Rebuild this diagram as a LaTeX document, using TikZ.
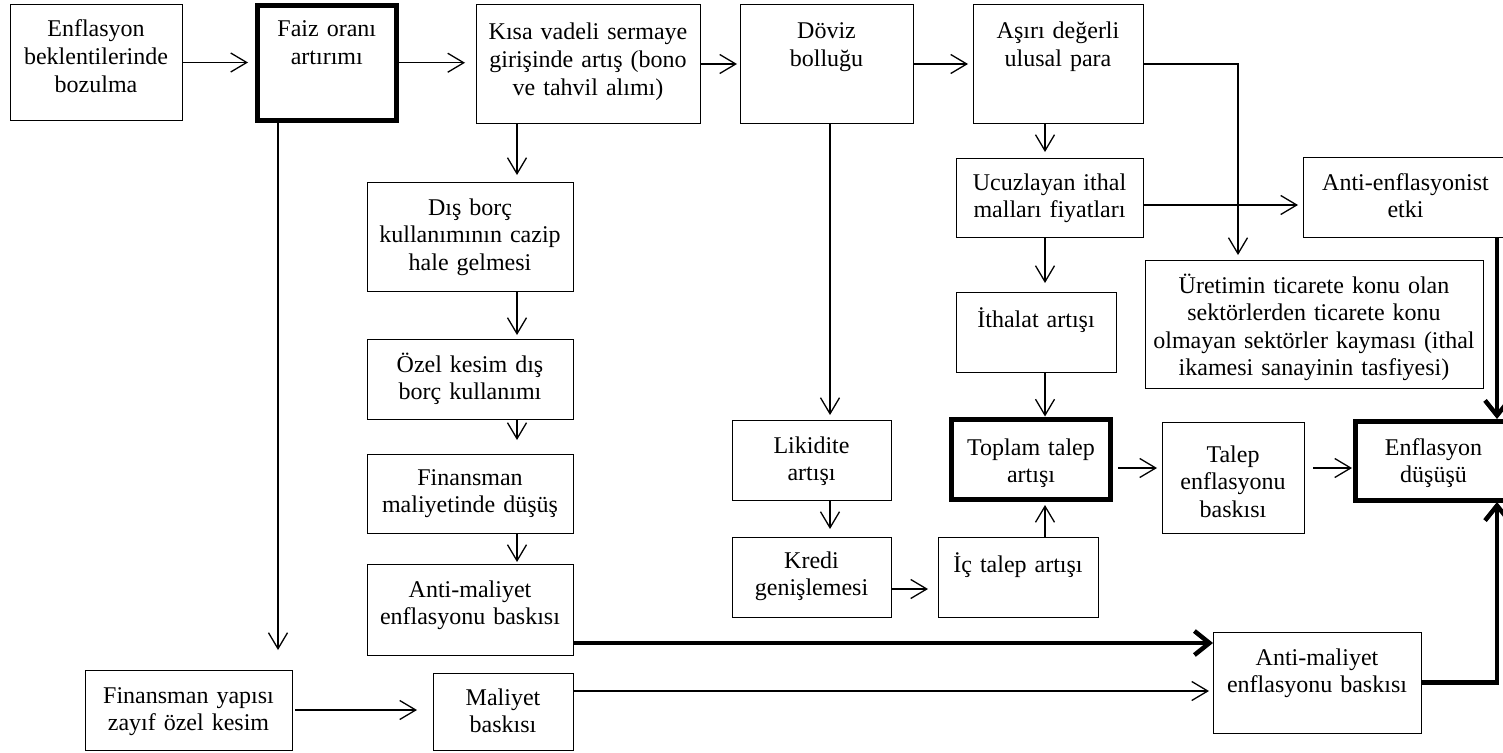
\documentclass[tikz,border=0pt]{standalone}
\usepackage{fontspec}
\setmainfont{Liberation Serif}
\usetikzlibrary{arrows.meta}
\begin{document}
\begin{tikzpicture}[x=1pt,y=-1pt,
  box/.style={draw, line width=1pt, inner sep=0pt, outer sep=0pt, align=center, anchor=north west, font={\fontsize{24}{27.6}\selectfont}},
  tbox/.style={box, line width=5pt},
  arr/.style={line width=1.3pt, -{Straight Barb[length=16pt,width=19pt]}},
  tarr/.style={line width=4.5pt, line join=miter, -{Straight Barb[length=15pt,width=24pt]}},
]
\useasboundingbox (0,0) rectangle (1503,752);
\fill[white] (0,0) rectangle (1503,752);
\clip (0,0) rectangle (1503,752);

% boxes
\node[box,  text width=172pt,   text height=32pt,   text depth=83pt] (A) at (10,5) {Enflasyon\\beklentilerinde\\bozulma};
\node[tbox, text width=139.5pt, text height=31.5pt, text depth=83pt] (B) at (257,5.5) {Faiz oranı\\artırımı};
\node[box,  text width=224pt,   text height=35pt,   text depth=83pt] (C) at (476,5) {Kısa vadeli sermaye\\girişinde artış (bono\\ve tahvil alımı)};
\node[box,  text width=173pt,   text height=34pt,   text depth=84pt] (D) at (740,5) {Döviz\\bolluğu};
\node[box,  text width=170pt,   text height=34pt,   text depth=84pt] (E) at (973,5) {Aşırı değerli\\ulusal para};
\node[box,  text width=206pt,   text height=33pt,   text depth=76pt] (F) at (367,182) {Dış borç\\kullanımının cazip\\hale gelmesi};
\node[box,  text width=206pt,   text height=33pt,   text depth=47pt] (G) at (367,339) {Özel kesim dış\\borç kullanımı};
\node[box,  text width=206pt,   text height=31pt,   text depth=48pt] (H) at (367,454) {Finansman\\maliyetinde düşüş};
\node[box,  text width=206pt,   text height=33pt,   text depth=58pt] (I) at (367,564) {Anti-maliyet\\enflasyonu baskısı};
\node[box,  text width=207pt,   text height=33pt,   text depth=47pt] (J) at (85,670) {Finansman yapısı\\zayıf özel kesim};
\node[box,  text width=140pt,   text height=32pt,   text depth=45pt] (K) at (433,673) {Maliyet\\baskısı};
\node[box,  text width=159pt,   text height=33pt,   text depth=47pt] (L) at (732,420) {Likidite\\artışı};
\node[box,  text width=159pt,   text height=31pt,   text depth=49pt] (M) at (732,537) {Kredi\\genişlemesi};
\node[box,  text width=160pt,   text height=35pt,   text depth=45pt] (N) at (938,537) {İç talep artışı};
\node[box,  text width=187pt,   text height=32pt,   text depth=47pt] (O) at (956,158) {Ucuzlayan ithal\\malları fiyatları};
\node[box,  text width=160pt,   text height=35pt,   text depth=45pt] (P) at (956,292) {İthalat artışı};
\node[tbox, text width=159pt,   text height=35.5pt, text depth=44.5pt] (Q) at (951.5,419.5) {Toplam talep\\artışı};
\node[box,  text width=142pt,   text height=40pt,   text depth=71pt] (R) at (1162,422) {Talep\\enflasyonu\\baskısı};
\node[tbox, text width=156pt,   text height=34pt,   text depth=45pt] (S) at (1355.5,421) {Enflasyon\\düşüşü};
\node[box,  text width=205pt,   text height=33pt,   text depth=47pt] (T) at (1303,157) {Anti-enflasyonist\\etki};
\node[box,  text width=338pt,   text height=33pt,   text depth=95pt] (U) at (1145,260) {Üretimin ticarete konu olan\\sektörlerden ticarete konu\\olmayan sektörler kayması (ithal\\ikamesi sanayinin tasfiyesi)};
\node[box,  text width=208pt,   text height=33pt,   text depth=68pt] (V) at (1213,632) {Anti-maliyet\\enflasyonu baskısı};

% top row
\draw[arr, shorten >=9pt] (A.east) -- (A.east -| B.west);
\draw[arr, shorten <=2.5pt, shorten >=11pt] (B.east) -- (B.east -| C.west);
\draw[arr, shorten >=3pt] (C.east) -- (C.east -| D.west);
\draw[arr, shorten >=5pt] (D.east) -- (D.east -| E.west);

% left column
\draw[arr, shorten <=2.5pt, shorten >=20pt] ([xshift=21pt]B.south west) -- ([xshift=21pt]B.south west |- J.north);
\draw[arr, shorten >=7pt] ([xshift=41pt]C.south west) -- ([xshift=41pt]C.south west |- F.north);
\draw[arr, shorten >=4pt] ([xshift=150pt]F.south west) -- ([xshift=150pt]F.south west |- G.north);
\draw[arr, shorten >=14pt] ([xshift=150pt]G.south west) -- ([xshift=150pt]G.south west |- H.north);
\draw[arr, shorten >=2pt] ([xshift=150pt]H.south west) -- ([xshift=150pt]H.south west |- I.north);
\draw[arr, shorten <=3pt, shorten >=16pt] (J.east) -- (J.east -| K.west);

% bottom long lines
\draw[tarr] ([yshift=12pt]I.south east) -- ([yshift=12pt]I.south east -| V.west);
\draw[arr, shorten >=4pt] ([yshift=-18pt]K.north east) -- ([yshift=-18pt]K.north east -| V.west);
\draw[tarr, shorten >=2pt] (V.east) -| ([xshift=-14.5pt]S.south east);

% middle
\draw[arr, shorten >=5pt] ([xshift=90pt]D.south west) -- ([xshift=90pt]D.south west |- L.north);
\draw[arr, shorten >=8pt] ([xshift=98pt]L.south west) -- ([xshift=98pt]L.south west |- M.north);
\draw[arr, shorten >=10pt] ([yshift=28pt]M.south east) -- ([yshift=28pt]M.south east -| N.west);
\draw[arr, shorten >=5.5pt] ([xshift=107pt]N.north west) -- ([xshift=107pt]N.north west |- Q.south);

% right part
\draw[arr, shorten >=6pt] ([xshift=72pt]E.south west) -- ([xshift=72pt]E.south west |- O.north);
\draw[arr, shorten >=9pt] ([xshift=89pt]O.south west) -- ([xshift=89pt]O.south west |- P.north);
\draw[arr, shorten >=3pt] ([xshift=89pt]P.south west) -- ([xshift=89pt]P.south west |- Q.north);
\draw[arr, shorten <=7.5pt, shorten >=5pt] ([yshift=31.5pt]Q.south east) -- ([yshift=31.5pt]Q.south east -| R.west);
\draw[arr, shorten <=9pt, shorten >=3.5pt] ([yshift=65pt]R.south east) -- ([yshift=65pt]R.south east -| S.west);
\draw[arr, shorten >=5pt] ([yshift=-47pt]O.north east) -- ([yshift=-47pt]O.north east -| T.west);
\draw[arr, shorten >=5pt] (E.east) -| ([xshift=93pt]U.north west);
\draw[tarr, shorten >=2pt] ([xshift=-11pt]T.south east) -- ([xshift=-11pt]T.south east |- S.north);
\end{tikzpicture}
\end{document}
